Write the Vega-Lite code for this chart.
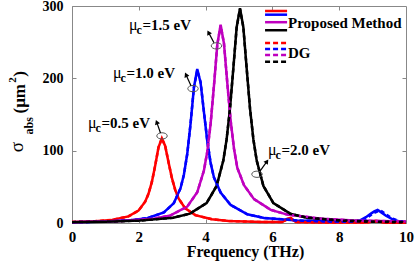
{
"$schema": "https://vega.github.io/schema/vega-lite/v6.json",
"width": 334, "height": 217,
"autosize": {"type": "none"},
"padding": {"left": 72, "top": 6, "right": 9, "bottom": 38},
"background": "white",
"config": {"view": {"stroke": "#888", "strokeWidth": 1}, "font": "Liberation Serif"},
"datasets": {
"curves": [
{"c":"r","f":0,"v":1.3,"dg":1.3},{"c":"r","f":0.69,"v":2.4,"dg":2.4},{"c":"r","f":1.19,"v":4.2,"dg":4.2},{"c":"r","f":1.69,"v":9.1,"dg":9.1},{"c":"r","f":1.99,"v":17.1,"dg":17.1},{"c":"r","f":2.19,"v":29.4,"dg":29.4},{"c":"r","f":2.29,"v":40.3,"dg":40.3},{"c":"r","f":2.39,"v":56.5,"dg":56.5},{"c":"r","f":2.49,"v":79.3,"dg":79.3},{"c":"r","f":2.59,"v":104.6,"dg":104.6},{"c":"r","f":2.69,"v":117,"dg":117},{"c":"r","f":2.79,"v":106.6,"dg":106.6},{"c":"r","f":2.89,"v":84.1,"dg":84.1},{"c":"r","f":2.99,"v":62.3,"dg":62.3},{"c":"r","f":3.09,"v":45.7,"dg":45.7},{"c":"r","f":3.19,"v":34,"dg":34},{"c":"r","f":3.39,"v":20.2,"dg":20.2},{"c":"r","f":3.69,"v":10.9,"dg":10.9},{"c":"r","f":4.19,"v":5.1,"dg":5.1},{"c":"r","f":4.69,"v":2.9,"dg":2.9},{"c":"r","f":5.69,"v":1.3,"dg":1.3},{"c":"r","f":6.3,"v":1.5,"dg":1.5},{"c":"r","f":6.45,"v":6,"dg":5},{"c":"r","f":6.55,"v":7,"dg":6},{"c":"r","f":6.7,"v":1.5,"dg":1.5},{"c":"r","f":7.5,"v":0.8,"dg":0.8},{"c":"r","f":8.8,"v":0.6,"dg":0.6},{"c":"r","f":9.1,"v":3,"dg":2.5},{"c":"r","f":9.4,"v":0.5,"dg":0.5},{"c":"r","f":10,"v":0.3,"dg":0.3},
{"c":"b","f":0,"v":1.1,"dg":1.1},{"c":"b","f":0.75,"v":1.7,"dg":1.7},{"c":"b","f":1.75,"v":3.8,"dg":3.8},{"c":"b","f":2.25,"v":6.7,"dg":6.7},{"c":"b","f":2.75,"v":14.5,"dg":14.5},{"c":"b","f":3.05,"v":27.6,"dg":27.6},{"c":"b","f":3.25,"v":48.1,"dg":48.1},{"c":"b","f":3.35,"v":66.7,"dg":66.7},{"c":"b","f":3.45,"v":95.3,"dg":95.3},{"c":"b","f":3.55,"v":137.5,"dg":137.5},{"c":"b","f":3.65,"v":187.3,"dg":187.3},{"c":"b","f":3.75,"v":213,"dg":211},{"c":"b","f":3.85,"v":194,"dg":195},{"c":"b","f":3.95,"v":153.2,"dg":154},{"c":"b","f":4.05,"v":113.4,"dg":114},{"c":"b","f":4.15,"v":83.1,"dg":83.1},{"c":"b","f":4.25,"v":63,"dg":63},{"c":"b","f":4.45,"v":42,"dg":42},{"c":"b","f":4.75,"v":25,"dg":25},{"c":"b","f":5.25,"v":12,"dg":12},{"c":"b","f":5.75,"v":7,"dg":7},{"c":"b","f":6.75,"v":3.5,"dg":3.5},{"c":"b","f":7.75,"v":2.2,"dg":2.2},{"c":"b","f":8.4,"v":2,"dg":2},{"c":"b","f":8.6,"v":3,"dg":3},{"c":"b","f":8.8,"v":8,"dg":6},{"c":"b","f":8.95,"v":13,"dg":11},{"c":"b","f":9.05,"v":16,"dg":14},{"c":"b","f":9.15,"v":18,"dg":16},{"c":"b","f":9.25,"v":15,"dg":17},{"c":"b","f":9.4,"v":10,"dg":12},{"c":"b","f":9.6,"v":5,"dg":6},{"c":"b","f":9.8,"v":2,"dg":2.5},{"c":"b","f":10,"v":1,"dg":1},
{"c":"m","f":0,"v":1.2,"dg":1.2},{"c":"m","f":1.45,"v":2.7,"dg":2.7},{"c":"m","f":2.45,"v":6,"dg":6},{"c":"m","f":2.95,"v":10.5,"dg":10.5},{"c":"m","f":3.45,"v":22.6,"dg":22.6},{"c":"m","f":3.75,"v":42.5,"dg":42.5},{"c":"m","f":3.95,"v":72.5,"dg":72.5},{"c":"m","f":4.05,"v":98.6,"dg":98.6},{"c":"m","f":4.15,"v":137,"dg":137},{"c":"m","f":4.25,"v":189.7,"dg":189.7},{"c":"m","f":4.35,"v":246.6,"dg":246.6},{"c":"m","f":4.45,"v":274,"dg":273},{"c":"m","f":4.55,"v":248.2,"dg":248.2},{"c":"m","f":4.65,"v":193.5,"dg":193.5},{"c":"m","f":4.75,"v":141.5,"dg":141.5},{"c":"m","f":4.85,"v":102.8,"dg":102.8},{"c":"m","f":4.95,"v":76.1,"dg":76.1},{"c":"m","f":5.15,"v":52.3,"dg":52.3},{"c":"m","f":5.45,"v":33,"dg":33},{"c":"m","f":5.95,"v":18.2,"dg":18.2},{"c":"m","f":6.45,"v":11.6,"dg":11.6},{"c":"m","f":7.45,"v":6,"dg":6},{"c":"m","f":8.45,"v":3.4,"dg":3.4},{"c":"m","f":10,"v":2,"dg":2},
{"c":"k","f":0,"v":1.2,"dg":1.2},{"c":"k","f":1.03,"v":1.9,"dg":1.9},{"c":"k","f":2.03,"v":3.3,"dg":3.3},{"c":"k","f":3.03,"v":7.4,"dg":7.4},{"c":"k","f":3.53,"v":12.9,"dg":12.9},{"c":"k","f":4.03,"v":27.6,"dg":27.6},{"c":"k","f":4.33,"v":51.3,"dg":51.3},{"c":"k","f":4.53,"v":86.3,"dg":86.3},{"c":"k","f":4.63,"v":115.9,"dg":115.9},{"c":"k","f":4.73,"v":158.1,"dg":158.1},{"c":"k","f":4.83,"v":213.6,"dg":213.6},{"c":"k","f":4.93,"v":270.6,"dg":270.6},{"c":"k","f":5.03,"v":297,"dg":296},{"c":"k","f":5.13,"v":270.6,"dg":270.6},{"c":"k","f":5.23,"v":213.6,"dg":213.6},{"c":"k","f":5.33,"v":158.1,"dg":158.1},{"c":"k","f":5.43,"v":115.9,"dg":115.9},{"c":"k","f":5.53,"v":86.3,"dg":86.3},{"c":"k","f":5.73,"v":51.3,"dg":51.3},{"c":"k","f":6.03,"v":27.6,"dg":27.6},{"c":"k","f":6.53,"v":12.9,"dg":12.9},{"c":"k","f":7.03,"v":7.4,"dg":7.4},{"c":"k","f":8.03,"v":3.3,"dg":3.3},{"c":"k","f":9.03,"v":1.9,"dg":1.9},{"c":"k","f":10,"v":1.2,"dg":1.2}
],
"legSolid": [
{"c":"r","f":5.78,"v":293.1},{"c":"r","f":6.44,"v":293.1},
{"c":"b","f":5.78,"v":288.0},{"c":"b","f":6.44,"v":288.0},
{"c":"m","f":5.78,"v":277.6},{"c":"m","f":6.44,"v":277.6},
{"c":"k","f":5.78,"v":266.5},{"c":"k","f":6.44,"v":266.5}
],
"legDash": [
{"c":"r","f":5.78,"v":248.7},{"c":"r","f":6.44,"v":248.7},
{"c":"b","f":5.78,"v":240.4},{"c":"b","f":6.44,"v":240.4},
{"c":"m","f":5.78,"v":232.1},{"c":"m","f":6.44,"v":232.1},
{"c":"k","f":5.78,"v":222.9},{"c":"k","f":6.44,"v":222.9}
],
"legText": [
{"f":6.467,"v":277.0,"t":"Proposed Method"},
{"f":6.467,"v":234.9,"t":"DG"}
],
"rings": [
{"f":2.695,"v":120.4},{"f":3.623,"v":185.8},{"f":4.326,"v":244.9},{"f":5.539,"v":67.4}
],
"arrows": [
{"f":2.650,"v":124.5,"f2":2.536,"v2":139.4,"ang":-21},
{"f":3.563,"v":189.9,"f2":3.413,"v2":205.0,"ang":-24},
{"f":4.251,"v":249.1,"f2":4.087,"v2":263.5,"ang":-28},
{"f":5.629,"v":71.6,"f2":5.838,"v2":85.3,"ang":35}
],
"notes": [
{"p":"mu","f":0.479,"v":130.7,"t":"μ"},{"p":"c","f":0.704,"v":125.2,"t":"c"},{"p":"rest","f":0.883,"v":130.7,"t":"=0.5 eV"},
{"p":"mu","f":1.228,"v":200.2,"t":"μ"},{"p":"c","f":1.452,"v":194.7,"t":"c"},{"p":"rest","f":1.632,"v":200.2,"t":"=1.0 eV"},
{"p":"mu","f":1.707,"v":267.0,"t":"μ"},{"p":"c","f":1.931,"v":261.5,"t":"c"},{"p":"rest","f":2.111,"v":267.0,"t":"=1.5 eV"},
{"p":"mu","f":5.868,"v":93.6,"t":"μ"},{"p":"c","f":6.093,"v":88.1,"t":"c"},{"p":"rest","f":6.272,"v":93.6,"t":"=2.0 eV"}
],
"ytitle": [
{"p":"sig","f":-1.467,"v":97.7,"t":"σ"},
{"p":"sub","f":-1.168,"v":122.5,"t":"abs"},
{"p":"main","f":-1.407,"v":151.4,"t":"(μm"},
{"p":"sup","f":-1.677,"v":194.0,"t":"2"},
{"p":"main","f":-1.407,"v":202.3,"t":")"}
]
},
"layer": [
{"data":{"name":"curves"},"mark":{"type":"line","strokeWidth":2.5},
 "encoding":{
  "x":{"field":"f","type":"quantitative","scale":{"domain":[0,10],"nice":false,"zero":false},
   "axis":{"values":[0,2,4,6,8,10],"title":"Frequency (THz)","grid":false,"labelFlush":false,"domainColor":"#888","tickColor":"#888","tickSize":-4,"labelPadding":10,"labelFont":"Liberation Serif","labelFontWeight":"bold","labelFontSize":15,"labelColor":"#000","titleFont":"Liberation Serif","titleFontWeight":"bold","titleFontSize":16,"titleColor":"#000","titleBaseline":"alphabetic","titleY":33.5,"titleX":173}},
  "y":{"field":"v","type":"quantitative","scale":{"domain":[0,300],"nice":false},
   "axis":{"values":[0,100,200,300],"title":null,"grid":false,"labelFlush":false,"domainColor":"#888","tickColor":"#888","tickSize":-4,"labelPadding":13,"labelFont":"Liberation Serif","labelFontWeight":"bold","labelFontSize":14,"labelColor":"#000"}},
  "color":{"field":"c","type":"nominal","scale":{"domain":["r","b","m","k"],"range":["#ff0000","#0000ff","#bf00bf","#000000"]},"legend":null}
 }},
{"data":{"name":"curves"},"mark":{"type":"line","strokeWidth":2.5,"strokeDash":[4,3]},
 "encoding":{
  "x":{"field":"f","type":"quantitative","axis":{"orient":"top","values":[2,4,6,8],"labels":false,"title":null,"grid":false,"domain":false,"tickColor":"#888","tickSize":-4}},
  "y":{"field":"dg","type":"quantitative","axis":{"orient":"right","values":[100,200],"labels":false,"title":null,"grid":false,"domain":false,"tickColor":"#888","tickSize":-4}},
  "color":{"field":"c","type":"nominal","legend":null}
 }},
{"data":{"name":"legSolid"},"mark":{"type":"line","strokeWidth":2.5},
 "encoding":{"x":{"field":"f","type":"quantitative","axis":null},"y":{"field":"v","type":"quantitative","axis":null},"color":{"field":"c","type":"nominal","legend":null}}},
{"data":{"name":"legDash"},"mark":{"type":"line","strokeWidth":2.5,"strokeDash":[5,3]},
 "encoding":{"x":{"field":"f","type":"quantitative","axis":null},"y":{"field":"v","type":"quantitative","axis":null},"color":{"field":"c","type":"nominal","legend":null}}},
{"data":{"name":"legText"},"mark":{"type":"text","align":"left","baseline":"middle","font":"Liberation Serif","fontWeight":"bold","fontSize":15,"color":"#000"},
 "encoding":{"x":{"field":"f","type":"quantitative","axis":null},"y":{"field":"v","type":"quantitative","axis":null},"text":{"field":"t"}}},
{"data":{"name":"rings"},"mark":{"type":"point","shape":"M-1,0A1,0.6 0 1,0 1,0A1,0.6 0 1,0 -1,0Z","size":110,"filled":false,"stroke":"#555","strokeWidth":1,"opacity":1},
 "encoding":{"x":{"field":"f","type":"quantitative","axis":null},"y":{"field":"v","type":"quantitative","axis":null}}},
{"data":{"name":"arrows"},"mark":{"type":"rule","color":"#000","strokeWidth":1.2},
 "encoding":{"x":{"field":"f","type":"quantitative","axis":null},"y":{"field":"v","type":"quantitative","axis":null},"x2":{"field":"f2"},"y2":{"field":"v2"}}},
{"data":{"name":"arrows"},"mark":{"type":"point","shape":"triangle-up","size":28,"filled":true,"color":"#000","opacity":1},
 "encoding":{"x":{"field":"f2","type":"quantitative","axis":null},"y":{"field":"v2","type":"quantitative","axis":null},"angle":{"field":"ang","type":"quantitative","scale":null}}},
{"data":{"name":"notes"},"transform":[{"filter":"datum.p === 'mu'"}],"mark":{"type":"text","align":"left","baseline":"alphabetic","font":"Liberation Serif","fontSize":16,"color":"#000"},
 "encoding":{"x":{"field":"f","type":"quantitative","axis":null},"y":{"field":"v","type":"quantitative","axis":null},"text":{"field":"t"}}},
{"data":{"name":"notes"},"transform":[{"filter":"datum.p === 'c'"}],"mark":{"type":"text","align":"left","baseline":"alphabetic","font":"Liberation Serif","fontWeight":"bold","fontSize":12,"color":"#000"},
 "encoding":{"x":{"field":"f","type":"quantitative","axis":null},"y":{"field":"v","type":"quantitative","axis":null},"text":{"field":"t"}}},
{"data":{"name":"notes"},"transform":[{"filter":"datum.p === 'rest'"}],"mark":{"type":"text","align":"left","baseline":"alphabetic","font":"Liberation Serif","fontWeight":"bold","fontSize":15,"color":"#000"},
 "encoding":{"x":{"field":"f","type":"quantitative","axis":null},"y":{"field":"v","type":"quantitative","axis":null},"text":{"field":"t"}}},
{"data":{"name":"ytitle"},"transform":[{"filter":"datum.p === 'sig'"}],"mark":{"type":"text","align":"left","baseline":"alphabetic","angle":270,"font":"Liberation Serif","fontSize":19,"color":"#000"},
 "encoding":{"x":{"field":"f","type":"quantitative","axis":null},"y":{"field":"v","type":"quantitative","axis":null},"text":{"field":"t"}}},
{"data":{"name":"ytitle"},"transform":[{"filter":"datum.p === 'sub'"}],"mark":{"type":"text","align":"left","baseline":"alphabetic","angle":270,"font":"Liberation Serif","fontWeight":"bold","fontSize":12,"color":"#000"},
 "encoding":{"x":{"field":"f","type":"quantitative","axis":null},"y":{"field":"v","type":"quantitative","axis":null},"text":{"field":"t"}}},
{"data":{"name":"ytitle"},"transform":[{"filter":"datum.p === 'main'"}],"mark":{"type":"text","align":"left","baseline":"alphabetic","angle":270,"font":"Liberation Serif","fontWeight":"bold","fontSize":17,"color":"#000"},
 "encoding":{"x":{"field":"f","type":"quantitative","axis":null},"y":{"field":"v","type":"quantitative","axis":null},"text":{"field":"t"}}},
{"data":{"name":"ytitle"},"transform":[{"filter":"datum.p === 'sup'"}],"mark":{"type":"text","align":"left","baseline":"alphabetic","angle":270,"font":"Liberation Serif","fontWeight":"bold","fontSize":11,"color":"#000"},
 "encoding":{"x":{"field":"f","type":"quantitative","axis":null},"y":{"field":"v","type":"quantitative","axis":null},"text":{"field":"t"}}}
],
"resolve": {"axis": {"x": "independent", "y": "independent"}}
}
